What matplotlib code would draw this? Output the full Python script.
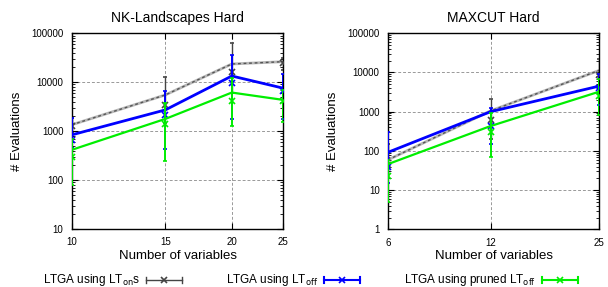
import matplotlib
matplotlib.use('Agg')
import matplotlib.pyplot as plt
from matplotlib.lines import Line2D
from matplotlib.ticker import FixedLocator, NullFormatter, LogLocator, NullLocator

plt.rcParams['font.family'] = ['Liberation Sans', 'DejaVu Sans']

# NK-Landscapes Hard
nk_n = [10, 15, 20, 25]
nk_on_line = [1350, 5500, 23600, 26300]
nk_on_pt = [1250, 3400, 16500, 24500]
nk_on_lo = [900, 1500, 6000, 18000]
nk_on_hi = [1900, 13000, 62000, 32000]
nk_off_line = [840, 2720, 13400, 7550]
nk_off_pt = [650, 2100, 9500, 6500]
nk_off_lo = [450, 430, 1800, 1800]
nk_off_hi = [1850, 6500, 36000, 14800]
nk_pr_line = [415, 1780, 6150, 4350]
nk_pr_pt = [300, 1400, 4100, 4100]
nk_pr_lo = [80, 250, 1250, 1550]
nk_pr_hi = [700, 3800, 12000, 7000]

# MAXCUT Hard
mc_n = [6, 12, 25]
mc_on_line = [59, 1050, 11300]
mc_on_pt = [45, 600, 8700]
mc_on_lo = [20, 200, 3000]
mc_on_hi = [150, 2100, 22000]
mc_off_line = [92, 1000, 4500]
mc_off_pt = [40, 420, 4000]
mc_off_lo = [15, 150, 1500]
mc_off_hi = [310, 1250, 9000]
mc_pr_line = [46, 430, 3240]
mc_pr_pt = [23, 300, 2500]
mc_pr_lo = [5, 71, 830]
mc_pr_hi = [60, 900, 7000]

labels = ['LTGA using LT$_{\\mathrm{on}}$s', 'LTGA using LT$_{\\mathrm{off}}$',
          'LTGA using pruned LT$_{\\mathrm{off}}$']
colors = ['#444444', '#0000ff', '#00ee00']

fig = plt.figure(figsize=(6.08, 2.87), dpi=100)
ax1 = fig.add_axes([0.118, 0.202, 0.348, 0.682])
ax2 = fig.add_axes([0.638, 0.201, 0.3475, 0.683])


def draw(ax, n, series, xticks, ylim, title):
    for i, (line, pt, lo, hi) in enumerate(series):
        c = colors[i]
        if i == 0:
            ax.plot(n, line, color='#b8b8b8', lw=2.0, zorder=2)
            ax.plot(n, line, color='#555555', lw=1.0, ls=(0, (2, 2)), zorder=2.1)
        else:
            ax.plot(n, line, color=c, lw=2.0 if i == 1 else 1.6, zorder=2 + i)
        yerr = [[p - l for p, l in zip(pt, lo)], [h - p for p, h in zip(pt, hi)]]
        ax.errorbar(n, pt, yerr=yerr, fmt='x', color=c, ms=4, mew=1.2,
                    elinewidth=1.0 if i == 0 else 1.4, capsize=1.5, capthick=1,
                    zorder=2.5 + i)
    ax.set_xscale('log')
    ax.set_yscale('log')
    ax.set_xlim(xticks[0], xticks[-1])
    ax.set_ylim(*ylim)
    ax.xaxis.set_major_locator(FixedLocator(xticks))
    ax.xaxis.set_minor_locator(NullLocator())
    ax.xaxis.set_minor_formatter(NullFormatter())
    ax.set_xticklabels([str(t) for t in xticks])
    ax.yaxis.set_major_locator(LogLocator(base=10, numticks=10))
    ax.yaxis.set_minor_locator(LogLocator(base=10, subs=range(2, 10), numticks=20))
    ax.yaxis.set_minor_formatter(NullFormatter())
    yt = [t for t in ax.get_yticks() if ylim[0] <= t <= ylim[1]]
    ax.set_yticks(yt)
    ax.set_yticklabels([str(int(t)) for t in yt])
    ax.grid(True, which='major', color='#999999', ls=(0, (3, 2)), lw=0.7)
    ax.tick_params(which='both', direction='in', top=True, right=True,
                   labelsize=7, colors='black', pad=6)
    ax.tick_params(which='major', length=4, width=0.8)
    ax.tick_params(which='minor', length=2, width=0.6)
    for s in ax.spines.values():
        s.set_linewidth(1.0)
    ax.set_title(title, fontsize=10, pad=8)
    ax.set_xlabel('Number of variables', fontsize=9.5, labelpad=2)
    ax.set_ylabel('# Evaluations', fontsize=9.5, labelpad=6)


draw(ax1, nk_n,
     [(nk_on_line, nk_on_pt, nk_on_lo, nk_on_hi),
      (nk_off_line, nk_off_pt, nk_off_lo, nk_off_hi),
      (nk_pr_line, nk_pr_pt, nk_pr_lo, nk_pr_hi)],
     [10, 15, 20, 25], (10, 100000), 'NK-Landscapes Hard')
draw(ax2, mc_n,
     [(mc_on_line, mc_on_pt, mc_on_lo, mc_on_hi),
      (mc_off_line, mc_off_pt, mc_off_lo, mc_off_hi),
      (mc_pr_line, mc_pr_pt, mc_pr_lo, mc_pr_hi)],
     [6, 12, 25], (1, 100000), 'MAXCUT Hard')

# gnuplot-style legend: text, then a short errorbar sample to the right
W, H = 608.0, 287.0
leg_y = 1 - 280 / H
leg_text_end = [140, 318, 536]
for i, lab in enumerate(labels):
    x1 = (leg_text_end[i] + 6) / W
    x2 = (leg_text_end[i] + 42) / W
    fig.text(leg_text_end[i] / W, leg_y, lab, ha='right', va='center', fontsize=8.5)
    lw = 1.0 if i == 0 else 1.5
    fig.add_artist(Line2D([x1, x2], [leg_y, leg_y], color=colors[i], lw=lw,
                          transform=fig.transFigure))
    for xe in (x1, x2):
        fig.add_artist(Line2D([xe, xe], [leg_y - 3 / H, leg_y + 3 / H], color=colors[i],
                              lw=lw, transform=fig.transFigure))
    fig.add_artist(Line2D([(x1 + x2) / 2], [leg_y], color=colors[i], marker='x',
                          ms=4, mew=1.2, ls='none', transform=fig.transFigure))

fig.savefig('out.png', dpi=100)
